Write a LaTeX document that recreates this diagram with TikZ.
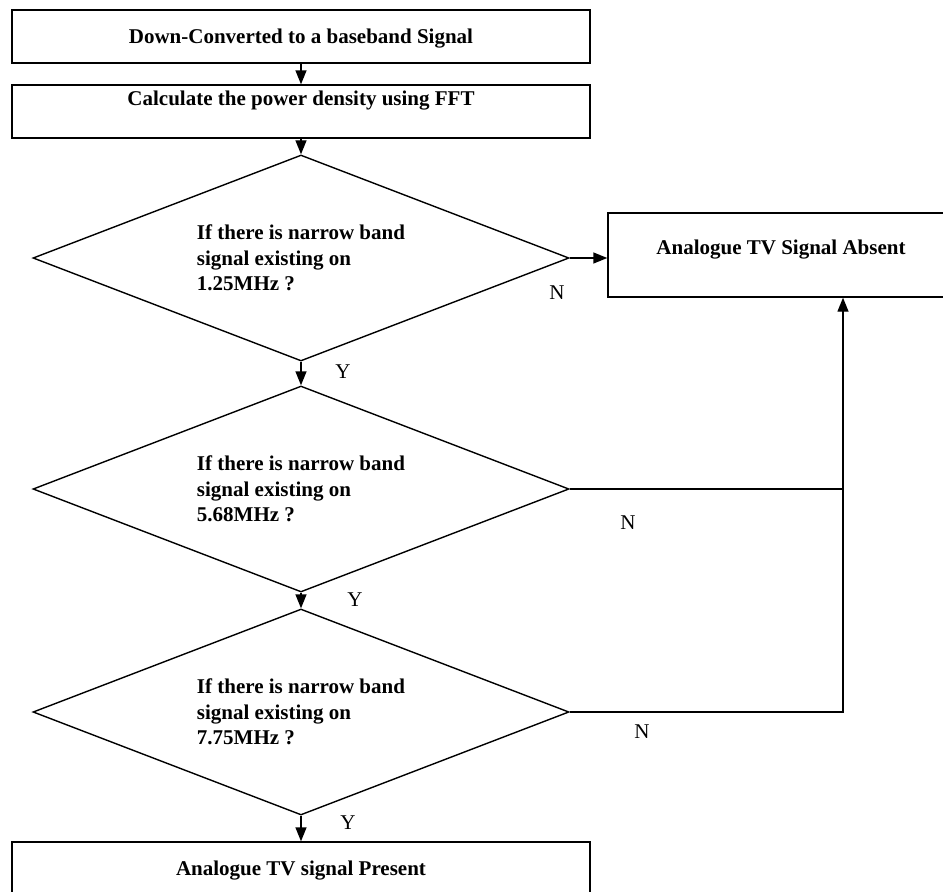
\documentclass[tikz,border=0pt]{standalone}
\usepackage{fontspec}
\setmainfont{Liberation Serif}
\usetikzlibrary{shapes.geometric,arrows.meta}
\tikzset{
    stepbox/.style={draw,line width=1.4pt,minimum width=578pt,minimum height=53pt,
        inner sep=0pt,text height=14pt,font=\bfseries\fontsize{21}{25}\selectfont},
    query/.style={draw,line width=1.4pt,diamond,aspect=2.6,minimum width=536pt,
        minimum height=206pt,inner sep=0pt,align=left,
        font=\bfseries\fontsize{21}{25.5}\selectfont},
    yn/.style={font=\fontsize{21}{25}\selectfont},
    flow/.style={line width=1.4pt,-{Triangle[length=14pt,width=11pt]}}
}
\begin{document}
\begin{tikzpicture}[x=1pt,y=-1pt]
    \useasboundingbox (0,0) rectangle (943,892);
    % main column
    \node[stepbox,text depth=0pt] (down) at (301,36.5) {Down-Converted to a baseband Signal};
    \node[stepbox,text depth=27pt] (fft) at (301,111.5) {Calculate the power density using FFT};
    \node[query] (q1) at (301,258) {If there is narrow band\\signal existing on\\1.25MHz ?};
    \node[query] (q2) at (301,489) {If there is narrow band\\signal existing on\\5.68MHz ?};
    \node[query] (q3) at (301,712) {If there is narrow band\\signal existing on\\7.75MHz ?};
    \node[stepbox,text depth=0pt] (present) at (301,868.5) {Analogue TV signal Present};
    % right side
    \node[stepbox,minimum width=346pt,minimum height=84pt,text depth=16pt]
        (absent) at (781,255) {Analogue TV Signal Absent};
    \coordinate (rt) at (843,712);
    \draw[flow] (down) -- (fft);
    \draw[flow] (fft) -- (q1);
    \draw[flow] (q1) -- (q2);
    \draw[flow] (q2) -- (q3);
    \draw[flow] (q3) -- (present);
    \draw[flow] (q1.east) -- (q1.east -| absent.west);
    \draw[line width=1.4pt] (q2.east) -- (q2.east -| rt);
    \draw[flow] (q3.east) -- (rt) -- (rt |- absent.south);
    % branch labels
    \node[yn] (y1) at (343,372) {Y};
    \node[yn] (y2) at (355,600) {Y};
    \node[yn] (y3) at (348,823) {Y};
    \node[yn] (n1) at (557,293) {N};
    \node[yn] (n2) at (628,523) {N};
    \node[yn] (n3) at (642,732) {N};
\end{tikzpicture}
\end{document}
